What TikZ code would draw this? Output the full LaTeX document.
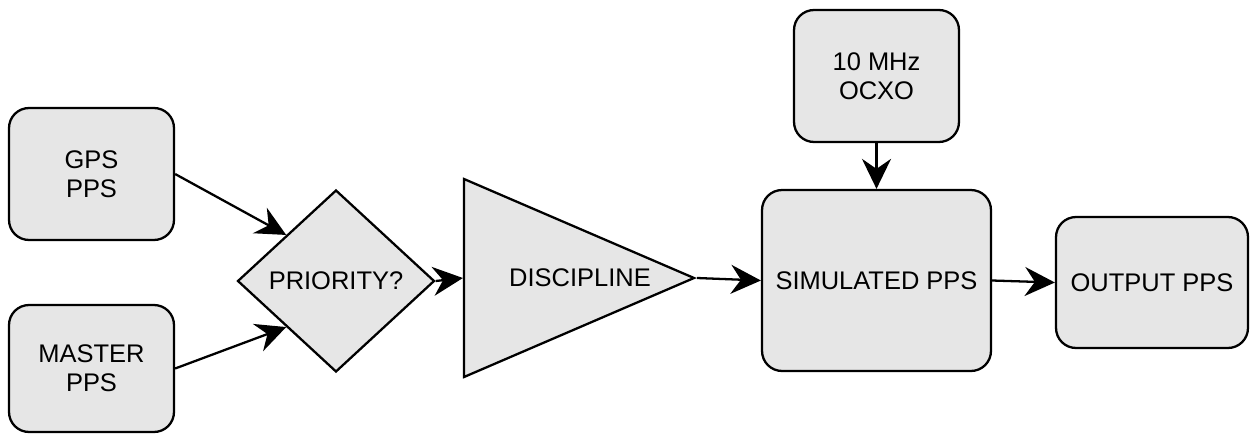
\documentclass[tikz,border=0pt]{standalone}
\usepackage{fontspec}
\setmainfont{Liberation Sans}
\usetikzlibrary{shapes.geometric,arrows.meta}
\definecolor{boxgray}{HTML}{E6E6E6}
\begin{document}
\begin{tikzpicture}[x=0.02cm,y=-0.02cm,line width=1.3pt,
every node/.style={font=\fontsize{14.5}{16.5}\selectfont,align=center},
box/.style={rectangle,rounded corners=0.4cm,draw,fill=boxgray,inner sep=0pt},
>={Stealth[length=0.6cm,width=0.58cm,inset=0.2cm]}]
\useasboundingbox (0,0) rectangle (1250,433);
% sources
\node [box,minimum width=3.3cm,minimum height=2.64cm] (gps) at (91.5,174) {GPS\\PPS};
\node [box,minimum width=3.3cm,minimum height=2.54cm] (master) at (91.5,368.5) {MASTER\\PPS};
% selection and loop
\node [diamond,draw,fill=boxgray,inner sep=0pt,minimum width=3.94cm,minimum height=3.64cm] (priority) at (336,281) {PRIORITY?};
\node [isosceles triangle,isosceles triangle stretches,draw,fill=boxgray,inner sep=0pt,minimum width=3.96cm,minimum height=4.6cm,anchor=apex] (discipline) at (697,278) {};
\path (discipline.lower side) -- (discipline.apex) node [midway] (disciplinetext) {DISCIPLINE};
% oscillator and outputs
\node [box,minimum width=3.3cm,minimum height=2.64cm] (ocxo) at (876.5,76) {10 MHz\\OCXO};
\node [box,minimum width=4.58cm,minimum height=3.62cm] (simulated) at (876.5,280.5) {SIMULATED PPS};
\node [box,minimum width=3.84cm,minimum height=2.62cm] (output) at (1152,282.5) {OUTPUT PPS};
% connections
\draw [->] (gps.east) -- (priority.north west);
\draw [->] (master.east) -- (priority.south west);
\draw [->] (priority.east) -- (discipline.lower side);
\draw [->] (discipline.apex) -- (simulated.west);
\draw [->] (ocxo.south) -- (simulated.north);
\draw [->] (simulated.east) -- (output.west);
\end{tikzpicture}
\end{document}
